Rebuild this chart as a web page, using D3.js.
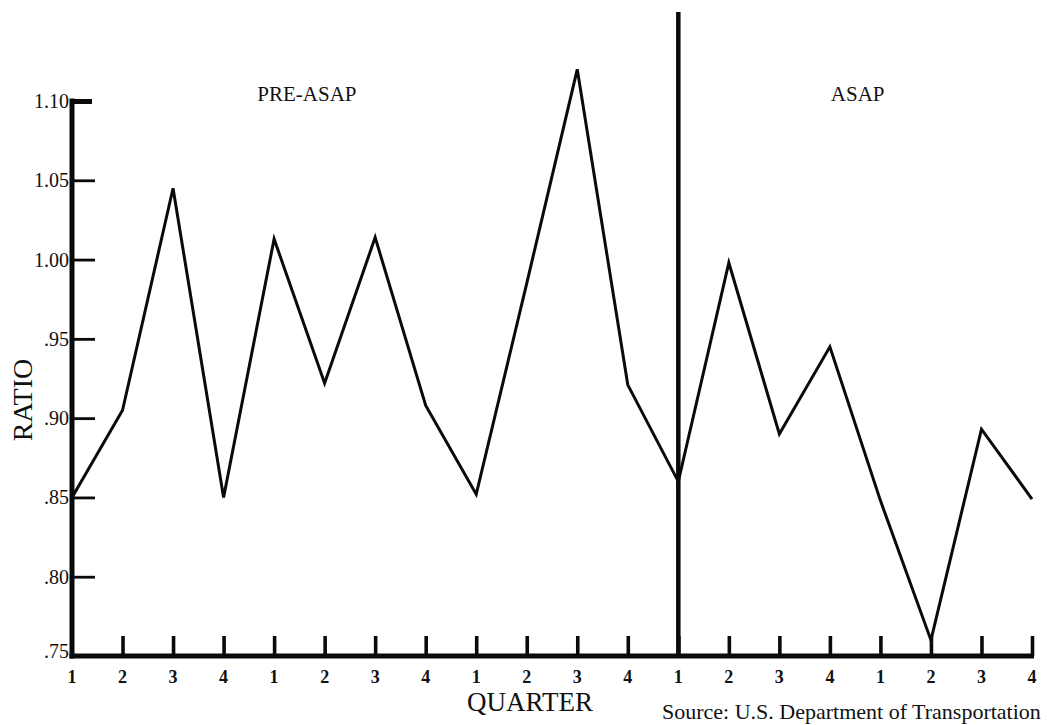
<!DOCTYPE html>
<html>
<head>
<meta charset="utf-8">
<script src="https://cdn.jsdelivr.net/npm/d3@7/dist/d3.min.js"></script>
<style>
  html, body { margin: 0; padding: 0; background: #fff; overflow: hidden; }
  svg { display: block; }
  text { font-family: "Liberation Serif", "DejaVu Serif", serif; fill: #111; }
</style>
</head>
<body>
<svg id="chart" width="1047" height="725"></svg>
<script>
// Quarterly ratio, five years of quarters: three pre-ASAP years, two ASAP years
const quarterLabels = ["1","2","3","4","1","2","3","4","1","2","3","4","1","2","3","4","1","2","3","4"];
const ratioValues = [0.850, 0.905, 1.045, 0.850, 1.013, 0.922, 1.014, 0.908,
                     0.852, 0.985, 1.120, 0.921, 0.860, 0.998, 0.890, 0.945,
                     0.848, 0.760, 0.893, 0.849];
const yTickValues = [0.75, 0.80, 0.85, 0.90, 0.95, 1.00, 1.05, 1.10];
const yTickLabels = [".75", ".80", ".85", ".90", ".95", "1.00", "1.05", "1.10"];
const periodLabels = ["PRE-ASAP", "ASAP"];
const periodCenters = [4.65, 15.55];  // in quarter-index units
const programStart = 12;              // first ASAP quarter

const svg = d3.select("#chart");

const x = d3.scaleLinear().domain([0, quarterLabels.length - 1]).range([72, 1032]);
const y = d3.scaleLinear().domain([0.75, 1.10]).range([656, 101]);

const ink = "#0a0a0a";

// Y axis: thick spine with short ticks pointing into the plot
const yAxis = d3.axisRight(y)
  .tickValues(yTickValues)
  .tickSize(23)
  .tickFormat("");
const gy = svg.append("g").attr("transform", `translate(${x(0)},0)`).call(yAxis);
gy.select(".domain").remove();
gy.selectAll(".tick line").attr("stroke", ink).attr("stroke-width", 2.8);
gy.selectAll(".tick").filter(d => d === 1.10).select("line")
  .attr("stroke-width", 5).attr("x2", 20);
gy.selectAll(".tick").filter(d => d === 0.75).remove();

svg.append("line")
  .attr("x1", x(0)).attr("x2", x(0))
  .attr("y1", y(1.10) - 2.5).attr("y2", y(0.75) + 2.5)
  .attr("stroke", ink).attr("stroke-width", 5);

// Y tick labels
svg.append("g").selectAll("text")
  .data(yTickValues)
  .join("text")
  .attr("x", x(0) - 3)
  .attr("y", d => y(d) + (d === 0.75 ? -5 : 0))
  .attr("dy", "0.35em")
  .attr("text-anchor", "end")
  .attr("font-size", 20)
  .text((d, i) => yTickLabels[i]);

// X axis: thick baseline with upright ticks at each quarter
const xAxis = d3.axisTop(x)
  .tickValues(d3.range(quarterLabels.length))
  .tickSize(20)
  .tickFormat("");
const gx = svg.append("g").attr("transform", `translate(0,${y(0.75)})`).call(xAxis);
gx.select(".domain").remove();
gx.selectAll(".tick line").attr("stroke", ink).attr("stroke-width", 3.6);
gx.selectAll(".tick").filter(d => d === 0).remove();

svg.append("line")
  .attr("x1", x(0) - 2.5).attr("x2", x(quarterLabels.length - 1) + 2)
  .attr("y1", y(0.75)).attr("y2", y(0.75))
  .attr("stroke", ink).attr("stroke-width", 5);

// Quarter labels
svg.append("g").selectAll("text")
  .data(quarterLabels)
  .join("text")
  .attr("x", (d, i) => x(i))
  .attr("y", y(0.75) + 27)
  .attr("text-anchor", "middle")
  .attr("font-size", 18)
  .attr("font-weight", "bold")
  .text(d => d);

// Divider marking the start of the ASAP program
svg.append("line")
  .attr("x1", x(programStart)).attr("x2", x(programStart))
  .attr("y1", 12).attr("y2", y(0.75))
  .attr("stroke", ink).attr("stroke-width", 4.5);

// Period labels
svg.append("g").selectAll("text")
  .data(periodLabels)
  .join("text")
  .attr("x", (d, i) => x(periodCenters[i]))
  .attr("y", y(1.10))
  .attr("text-anchor", "middle")
  .attr("font-size", 21)
  .text(d => d);

// Ratio line
const line = d3.line()
  .x((d, i) => x(i))
  .y(d => y(d))
  .curve(d3.curveLinear);
svg.append("path")
  .datum(ratioValues)
  .attr("d", line)
  .attr("fill", "none")
  .attr("stroke", ink)
  .attr("stroke-width", 3)
  .attr("stroke-linejoin", "miter");

// Axis titles
svg.append("text")
  .attr("transform", "translate(32,400) rotate(-90)")
  .attr("text-anchor", "middle")
  .attr("font-size", 28)
  .text("RATIO");

svg.append("text")
  .attr("x", 530)
  .attr("y", y(0.75) + 55)
  .attr("text-anchor", "middle")
  .attr("font-size", 27)
  .text("QUARTER");

// Source note
svg.append("text")
  .attr("x", 662)
  .attr("y", 719)
  .attr("font-size", 22)
  .text("Source: U.S. Department of Transportation");
</script>
</body>
</html>
